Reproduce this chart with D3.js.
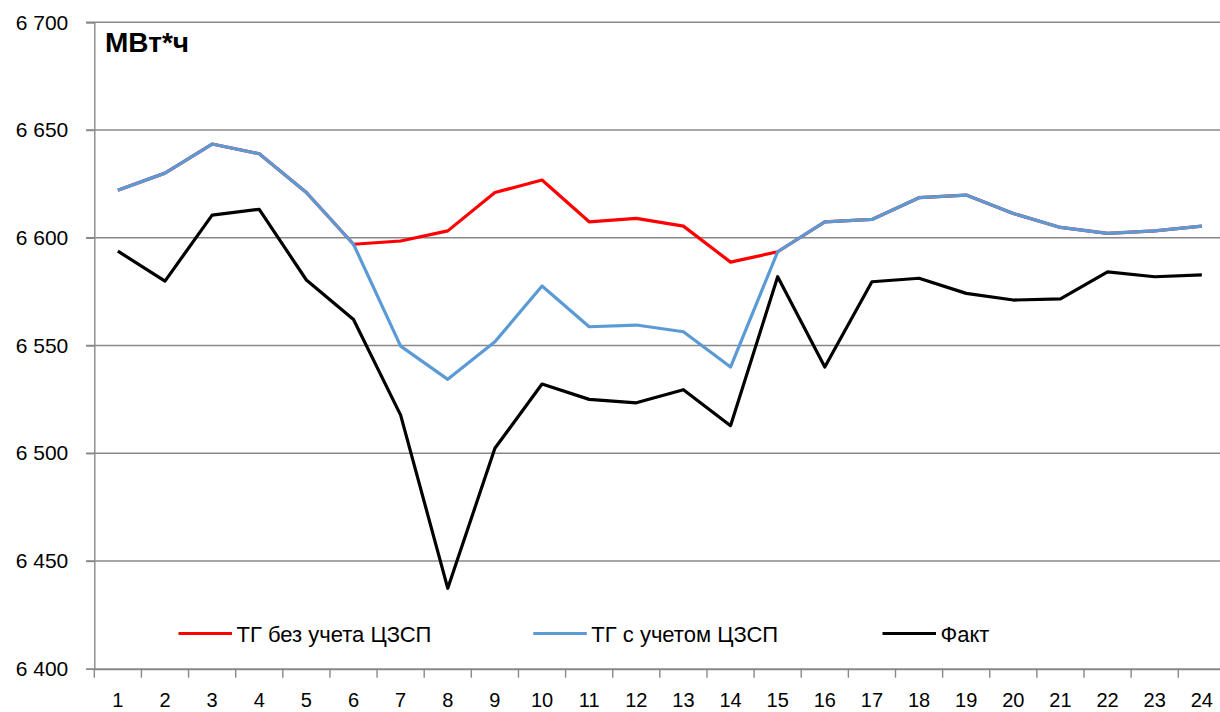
<!DOCTYPE html>
<html>
<head>
<meta charset="utf-8">
<script src="https://cdn.jsdelivr.net/npm/d3@7"></script>
<style>
  body { margin: 0; background: #fff; }
  text { font-family: "Liberation Sans", Arial, sans-serif; fill: #000; }
</style>
</head>
<body>
<div class="board"></div>
<script>
// hours of the day
var hours = d3.range(1, 25)

// ТГ без учета ЦЗСП
var tgNoCzsp = [6622.1, 6630, 6643.5, 6639, 6621, 6597, 6598.5, 6603.2, 6621, 6626.8, 6607.4, 6609,
    6605.4, 6588.7, 6593.5, 6607.4, 6608.5, 6618.6, 6619.8, 6611.3, 6604.8, 6602, 6603.2, 6605.4]
// ТГ с учетом ЦЗСП
var tgCzsp = [6622.1, 6630, 6643.5, 6639, 6621, 6597, 6549.7, 6534.3, 6551.7, 6577.6, 6558.7, 6559.5,
    6556.4, 6540, 6593.5, 6607.4, 6608.5, 6618.6, 6619.8, 6611.3, 6604.8, 6602, 6603.2, 6605.4]
// Факт
var fact = [6593.8, 6579.9, 6610.5, 6613.2, 6580.4, 6562.1, 6517.7, 6437.3, 6502.3, 6532.1, 6525, 6523.4,
    6529.5, 6512.8, 6581.9, 6540, 6579.6, 6581.2, 6574.2, 6571.1, 6571.6, 6584.2, 6581.9, 6582.8]

var yTicks = [6400, 6450, 6500, 6550, 6600, 6650, 6700]

var series = [
    { name: "ТГ без учета ЦЗСП", values: tgNoCzsp, color: "#ff0000" },
    { name: "ТГ с учетом ЦЗСП", values: tgCzsp, color: "#5b9bd5" },
    { name: "Факт", values: fact, color: "#000000" }
]

var width = 1220, height = 712

var svg = d3.select(".board")
    .append("svg")
    .attr("width", width)
    .attr("height", height)

var xScale = d3.scaleBand()
    .domain(hours)
    .range([94.3, 1225.4])
    .padding(0)

var yScale = d3.scaleLinear()
    .domain([6400, 6700])
    .range([668.7, 22.3])

// gridlines
svg.append("g")
    .selectAll("line")
    .data(yTicks.slice(1))
    .enter()
    .append("line")
    .attr("x1", 86)
    .attr("x2", width)
    .attr("y1", d => yScale(d))
    .attr("y2", d => yScale(d))
    .attr("stroke", "#888")
    .attr("stroke-width", 1.4)

// y axis
var yAxis = svg.append("g")
    .attr("transform", `translate(${xScale.range()[0]}, 0)`)
    .call(d3.axisLeft(yScale)
        .tickValues(yTicks)
        .tickSize(8)
        .tickFormat(d => d3.format(",")(d).replace(",", " ")))
yAxis.select(".domain").attr("stroke", "#888").attr("stroke-width", 1.4)
yAxis.selectAll(".tick line").attr("stroke", "#888").attr("stroke-width", 1.4)
yAxis.selectAll(".tick text")
    .attr("x", -26)
    .style("font-size", "21px")
    .style("font-family", "Liberation Sans, Arial, sans-serif")
    .attr("fill", "#000")

// x axis
var xAxis = svg.append("g")
    .attr("transform", `translate(0, ${yScale(6400)})`)
    .call(d3.axisBottom(xScale).tickSize(0).tickPadding(0))
xAxis.select(".domain").attr("stroke", "#888").attr("stroke-width", 2)
xAxis.selectAll(".tick text")
    .attr("dy", null)
    .attr("y", 38)
    .style("font-size", "20px")
    .style("font-family", "Liberation Sans, Arial, sans-serif")
    .attr("fill", "#000")

// x ticks between categories
svg.append("g")
    .selectAll("line")
    .data(hours)
    .enter()
    .append("line")
    .attr("x1", d => xScale(d))
    .attr("x2", d => xScale(d))
    .attr("y1", yScale(6400))
    .attr("y2", yScale(6400) + 9)
    .attr("stroke", "#888")
    .attr("stroke-width", 1.4)

// lines
var line = d3.line()
    .x((d, i) => xScale(hours[i]) + xScale.bandwidth() / 2)
    .y(d => yScale(d))

series.forEach(s => {
    svg.append("path")
        .datum(s.values)
        .attr("fill", "none")
        .attr("stroke", s.color)
        .attr("stroke-width", 3.2)
        .attr("stroke-linejoin", "round")
        .attr("d", line)
})

// unit label
svg.append("text")
    .attr("x", 105)
    .attr("y", 52)
    .style("font-size", "28px")
    .style("font-weight", "bold")
    .text("МВт*ч")

// legend
var legendX = [178.5, 533.3, 882.5]
var legend = svg.append("g")
    .selectAll("g")
    .data(series)
    .enter()
    .append("g")
    .attr("transform", (d, i) => `translate(${legendX[i]}, 633.5)`)

legend.append("line")
    .attr("x1", 0)
    .attr("x2", 53.5)
    .attr("stroke", d => d.color)
    .attr("stroke-width", 3.2)

legend.append("text")
    .attr("x", 58)
    .attr("y", 8)
    .style("font-size", "22px")
    .text(d => d.name)
</script>
</body>
</html>
